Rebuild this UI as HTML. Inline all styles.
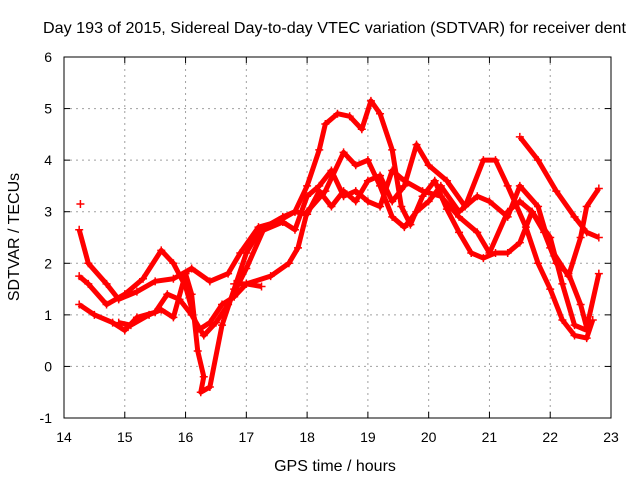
<!DOCTYPE html>
<html><head><meta charset="utf-8"><style>
html,body{margin:0;padding:0;background:#fff}
svg{display:block;font-family:"Liberation Sans",sans-serif}
</style></head><body>
<svg id="chart" width="640" height="480">
<rect width="640" height="480" fill="#fff"/>
<text x="43" y="33" font-size="16" textLength="583" lengthAdjust="spacingAndGlyphs">Day 193 of 2015, Sidereal Day-to-day VTEC variation (SDTVAR) for receiver dent</text>
<text x="335" y="471" font-size="16" text-anchor="middle">GPS time / hours</text>
<text transform="translate(19,237) rotate(-90)" font-size="16" text-anchor="middle">SDTVAR / TECUs</text>
<g id="grid"></g><g id="series"></g>
<rect x="64" y="57" width="547" height="361" fill="none" stroke="#000"/>
</svg>
<script>
const xTicks=[14,15,16,17,18,19,20,21,22,23];
const yTicks=[-1,0,1,2,3,4,5,6];
const s1=[[14.25,2.65],[14.4,2.0],[14.7,1.6],[14.9,1.3],[15.2,1.45],[15.5,1.65],[15.8,1.7],[16.1,1.9],[16.4,1.65],[16.7,1.8],[16.9,2.2],[17.2,2.7],[17.5,2.8],[17.8,3.0],[18.0,3.5],[18.2,4.2],[18.3,4.7],[18.5,4.9],[18.7,4.85],[18.9,4.6],[19.05,5.15],[19.2,4.9],[19.4,4.2],[19.55,3.1],[19.7,2.75],[19.9,3.3],[20.1,3.6],[20.3,3.05],[20.5,2.6],[20.7,2.2],[20.9,2.1],[21.1,2.2],[21.3,2.2],[21.5,2.4],[21.7,3.0],[21.9,2.6],[22.1,2.0],[22.3,1.8],[22.5,1.2],[22.6,0.75],[22.8,1.8]];
const s2=[[14.25,1.75],[14.4,1.6],[14.7,1.2],[15.0,1.4],[15.3,1.7],[15.6,2.25],[15.8,2.0],[16.0,1.55],[16.2,0.7],[16.4,0.85],[16.6,1.2],[16.8,1.35],[17.0,1.6],[17.4,1.75],[17.7,2.0],[17.85,2.3],[18.0,3.0],[18.3,3.4],[18.6,4.15],[18.8,3.9],[19.0,4.0],[19.2,3.5],[19.4,2.9],[19.6,2.7],[19.8,3.0],[20.0,3.2],[20.2,3.5],[20.5,3.0],[20.8,3.3],[21.0,3.2],[21.3,2.9],[21.5,3.5],[21.8,3.1],[22.0,2.3],[22.3,1.75],[22.5,2.5],[22.6,3.1],[22.8,3.45]];
const s3=[[14.25,1.2],[14.5,1.0],[14.8,0.85],[15.0,0.7],[15.2,0.95],[15.5,1.05],[15.7,1.4],[15.9,1.3],[16.1,1.0],[16.3,0.6],[16.5,0.85],[16.7,1.2],[17.0,1.9],[17.3,2.7],[17.6,2.9],[17.8,3.0],[18.0,2.95],[18.2,3.4],[18.4,3.1],[18.6,3.4],[18.8,3.2],[19.0,3.6],[19.2,3.7],[19.4,3.2],[19.6,3.5],[19.8,4.3],[20.0,3.9],[20.3,3.6],[20.6,3.1],[20.9,4.0],[21.1,4.0],[21.3,3.5],[21.6,2.7],[21.8,2.0],[22.0,1.5],[22.2,0.9],[22.4,0.6],[22.6,0.55],[22.7,0.9]];
const s4=[[14.9,0.85],[15.1,0.8],[15.4,1.0],[15.6,1.1],[15.8,0.95],[16.0,1.8],[16.1,1.4],[16.2,0.3],[16.3,-0.2],[16.25,-0.5],[16.4,-0.4],[16.6,0.8],[16.8,1.5],[17.0,2.2],[17.2,2.6],[17.6,2.8],[17.8,2.65],[18.0,3.3],[18.2,3.5],[18.4,3.8],[18.6,3.3],[18.8,3.4],[19.0,3.2],[19.2,3.1],[19.4,3.8],[19.6,3.6],[19.9,3.4],[20.2,3.3],[20.5,2.9],[20.8,2.6],[21.0,2.2],[21.3,3.0],[21.5,3.2],[21.7,3.0],[22.0,2.5],[22.2,1.6],[22.4,0.8],[22.6,0.7]];
const s5=[[16.8,1.6],[17.0,1.6],[17.25,1.55]];
const s6=[[21.5,4.45],[21.8,4.0],[22.1,3.4],[22.4,2.9],[22.6,2.6],[22.8,2.5]];
const s7=[[14.27,3.15]];
const allSeries=[s1,s2,s3,s4,s5,s6,s7];
const NS="http://www.w3.org/2000/svg";
const X=h=>64+(h-14)*547/9, Y=v=>57+(6-v)*361/7;
const grid=document.getElementById('grid'), ser=document.getElementById('series');
function mk(tag,attrs,parent){const e=document.createElementNS(NS,tag);for(const k in attrs)e.setAttribute(k,attrs[k]);parent.appendChild(e);return e;}
xTicks.forEach(t=>{const x=X(t);
 if(t>14&&t<23){const l=mk('line',{x1:x,x2:x,y1:57,y2:418,stroke:'#a0a0a0','stroke-dasharray':'2,4'},grid);}
 mk('line',{x1:x,x2:x,y1:418,y2:412,stroke:'#000'},grid);mk('line',{x1:x,x2:x,y1:57,y2:63,stroke:'#000'},grid);
 const tx=mk('text',{x:x,y:442,'font-size':14,'text-anchor':'middle'},grid);tx.textContent=t;
 });
yTicks.forEach(t=>{const y=Y(t);
 if(t>-1&&t<6){const l=mk('line',{x1:64,x2:611,y1:y,y2:y,stroke:'#a0a0a0','stroke-dasharray':'2,4'},grid);}
 mk('line',{x1:64,x2:70,y1:y,y2:y,stroke:'#000'},grid);mk('line',{x1:605,x2:611,y1:y,y2:y,stroke:'#000'},grid);
 const tx=mk('text',{x:52,y:y+5,'font-size':14,'text-anchor':'end'},grid);tx.textContent=t;
 });
allSeries.forEach((s,i)=>{
 const g=mk('g',{},ser);
 if(s.length>1)mk('polyline',{points:s.map(p=>X(p[0])+','+Y(p[1])).join(' '),fill:'none',stroke:'#f00','stroke-width':5,'stroke-linejoin':'round'},g);
 s.forEach(p=>{const x=X(p[0]),y=Y(p[1]);
  const m=mk('path',{d:`M${x-4},${y}H${x+4}M${x},${y-4}V${y+4}`,stroke:'#f00','stroke-width':1.5},g);
  });
});
</script>
</body></html>
